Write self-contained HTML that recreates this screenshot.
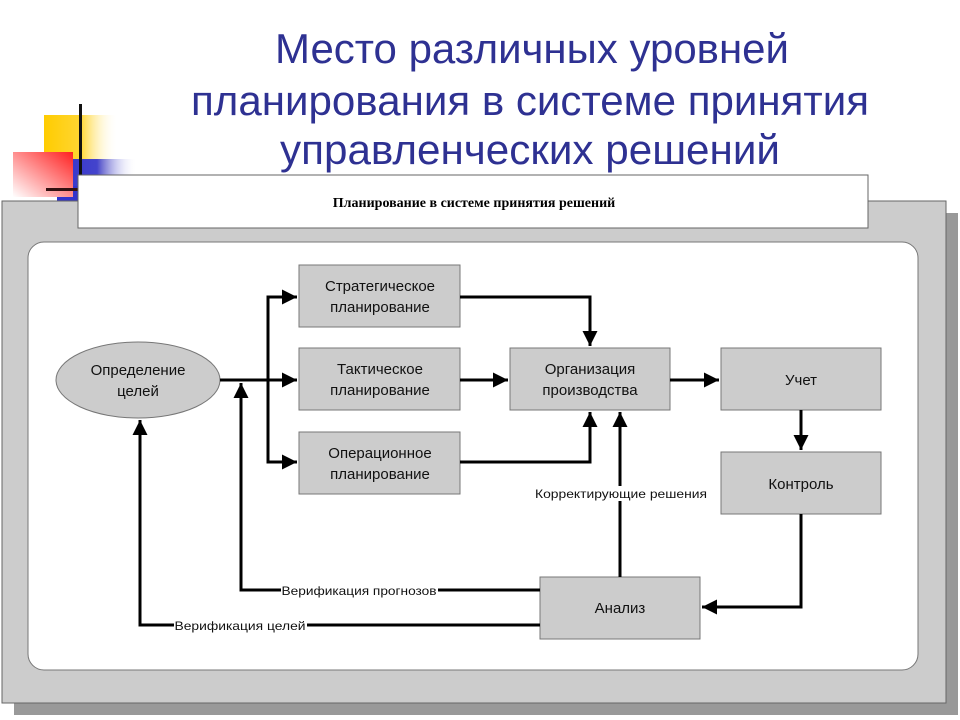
<!DOCTYPE html>
<html><head><meta charset="utf-8"><style>
html,body{margin:0;padding:0;background:#fff;}
svg{display:block;}
</style></head><body>
<svg width="960" height="720" viewBox="0 0 960 720" xmlns="http://www.w3.org/2000/svg" font-family="Liberation Sans, sans-serif">
<defs>
<linearGradient id="gy" x1="0" x2="1"><stop offset="0" stop-color="#ffcc00"/><stop offset="0.5" stop-color="#ffd633"/><stop offset="1" stop-color="#fff" stop-opacity="0"/></linearGradient>
<linearGradient id="gb" x1="0" x2="1"><stop offset="0" stop-color="#3333cc"/><stop offset="0.5" stop-color="#4444cc"/><stop offset="1" stop-color="#fff" stop-opacity="0"/></linearGradient>
<linearGradient id="gr" x1="1" y1="0" x2="0" y2="1"><stop offset="0" stop-color="#ff2020"/><stop offset="1" stop-color="#fff"/></linearGradient>
<marker id="a" viewBox="0 0 10 10" refX="10" refY="5" markerWidth="5" markerHeight="5" orient="auto"><path d="M0,0L10,5L0,10z" fill="#000"/></marker>
</defs>
<rect x="44" y="115" width="74" height="62" fill="url(#gy)"/>
<rect x="57" y="159" width="80" height="27" fill="url(#gb)"/>
<rect x="57" y="186" width="22" height="26" fill="#3333cc"/>
<rect x="13" y="152" width="60" height="45" fill="url(#gr)"/>
<rect x="79" y="104" width="3" height="90" fill="#111"/>
<rect x="46" y="188" width="34" height="3" fill="#331111"/>
<g fill="#2e3192" font-size="42" text-anchor="middle">
<text x="532" y="63" textLength="514" lengthAdjust="spacingAndGlyphs">Место различных уровней</text>
<text x="530" y="115" textLength="678" lengthAdjust="spacingAndGlyphs">планирования в системе принятия</text>
<text x="530" y="164" textLength="500" lengthAdjust="spacingAndGlyphs">управленческих решений</text>
</g>
<rect x="14" y="213" width="944" height="502" fill="#999"/>
<rect x="2" y="201" width="944" height="502" fill="#cccccc" stroke="#666" stroke-width="1"/>
<rect x="28" y="242" width="890" height="428" rx="16" fill="#fff" stroke="#777" stroke-width="1"/>
<rect x="78" y="175" width="790" height="53" fill="#fff" stroke="#666" stroke-width="1"/>
<text x="474" y="207" font-family="Liberation Serif, serif" font-weight="bold" font-size="14" text-anchor="middle">Планирование в системе принятия решений</text>
<g fill="#cccccc" stroke="#777" stroke-width="1">
<ellipse cx="138" cy="380" rx="82" ry="38"/>
<rect x="299" y="265" width="161" height="62"/>
<rect x="299" y="348" width="161" height="62"/>
<rect x="299" y="432" width="161" height="62"/>
<rect x="510" y="348" width="160" height="62"/>
<rect x="721" y="348" width="160" height="62"/>
<rect x="721" y="452" width="160" height="62"/>
<rect x="540" y="577" width="160" height="62"/>
</g>
<g font-size="15" text-anchor="middle" fill="#111">
<text x="138" y="375">Определение</text><text x="138" y="396">целей</text>
<text x="380" y="291">Стратегическое</text><text x="380" y="312">планирование</text>
<text x="380" y="374">Тактическое</text><text x="380" y="395">планирование</text>
<text x="380" y="458">Операционное</text><text x="380" y="479">планирование</text>
<text x="590" y="374">Организация</text><text x="590" y="395">производства</text>
<text x="801" y="385">Учет</text>
<text x="801" y="489">Контроль</text>
<text x="620" y="613">Анализ</text>
</g>
<g fill="none" stroke="#000" stroke-width="3">
<path d="M220,380H297" marker-end="url(#a)"/>
<path d="M268,380V297H297" marker-end="url(#a)"/>
<path d="M268,380V462H297" marker-end="url(#a)"/>
<path d="M460,297H590V346" marker-end="url(#a)"/>
<path d="M460,380H508" marker-end="url(#a)"/>
<path d="M460,462H590V412" marker-end="url(#a)"/>
<path d="M670,380H719" marker-end="url(#a)"/>
<path d="M801,410V450" marker-end="url(#a)"/>
<path d="M801,514V607H702" marker-end="url(#a)"/>
<path d="M620,577V412" marker-end="url(#a)"/>
<path d="M540,590H241V383" marker-end="url(#a)"/>
<path d="M540,625H140V420" marker-end="url(#a)"/>
</g>
<g font-size="12" text-anchor="middle" fill="#111">
<rect x="533" y="486" width="176" height="15" fill="#fff"/>
<text x="621" y="498" textLength="172" lengthAdjust="spacingAndGlyphs">Корректирующие решения</text>
<rect x="281" y="584" width="157" height="13" fill="#fff"/>
<text x="359" y="595" textLength="155" lengthAdjust="spacingAndGlyphs">Верификация прогнозов</text>
<rect x="174" y="619" width="133" height="13" fill="#fff"/>
<text x="240" y="630" textLength="131" lengthAdjust="spacingAndGlyphs">Верификация целей</text>
</g>
</svg>
</body></html>
